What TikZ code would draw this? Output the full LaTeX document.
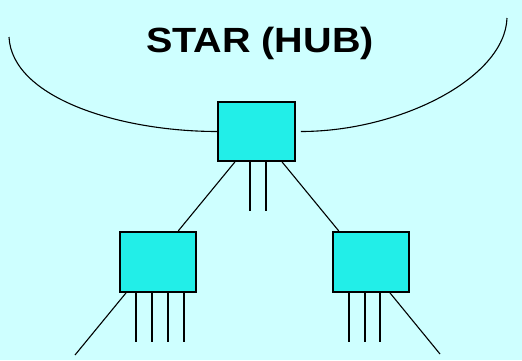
\documentclass[tikz,border=0pt]{standalone}
\usepackage{fontspec}
\setmainfont{Liberation Sans}
\usepackage{graphicx}
\usetikzlibrary{positioning}
\definecolor{bgcyan}{RGB}{206,255,255}
\definecolor{boxcyan}{RGB}{34,238,232}
\tikzset{
  box/.style={draw, line width=1.7pt, fill=boxcyan, rectangle, inner sep=0pt},
  stub/.style={line width=1.8pt},
  wire/.style={line width=1.1pt}
}

\begin{document}
\begin{tikzpicture}[x=1pt, y=1pt]
\fill[bgcyan] (0,0) rectangle (522,360);
\useasboundingbox (0,0) rectangle (522,360);
\node  (title) [anchor=base] at (260,308) {\scalebox{1.13}[1]{\fontsize{35}{40}\selectfont\bfseries STAR (HUB)}};
\node  (hub)[box, minimum width=77pt, minimum height=59pt] at (256.5,228.5) {};
\node  (leafL)[box, minimum width=76pt, minimum height=60pt] [below left =69pt and 20pt of hub] {};
\node  (leafR)[box, minimum width=76pt, minimum height=60pt] [below right=69pt and 36pt of hub] {};
\coordinate (arcL) at (9,323);
\coordinate (arcR) at (507,342);
\coordinate (endL) at (75,5);
\coordinate (endR) at (440,6);
% the arc round the hub
\draw[wire] (arcL) .. controls (12,262) and (120,228.5) .. (hub.west);
\draw[wire] ([xshift=5pt]hub.east) .. controls (400,228.5) and (505,282) .. (arcR);
% links to the two boxes
\draw[wire] ([xshift=-21.5pt]hub.south) -- ([xshift=20pt]leafL.north);
\draw[wire] ([xshift=25.5pt]hub.south) -- ([xshift=-32pt]leafR.north);
\draw[wire] ([xshift=-32pt]leafL.south) -- (endL);
\draw[wire] ([xshift=19pt]leafR.south) -- (endR);
% ports
\foreach \dx in {-6.5,9.5}
  \draw[stub] ([xshift=\dx pt]hub.south) -- ++(0,-49);
\foreach \dx in {-22,-6,10,26}
  \draw[stub] ([xshift=\dx pt]leafL.south) -- ++(0,-49);
\foreach \dx in {-22,-6,9}
  \draw[stub] ([xshift=\dx pt]leafR.south) -- ++(0,-49);
\end{tikzpicture}
\end{document}
